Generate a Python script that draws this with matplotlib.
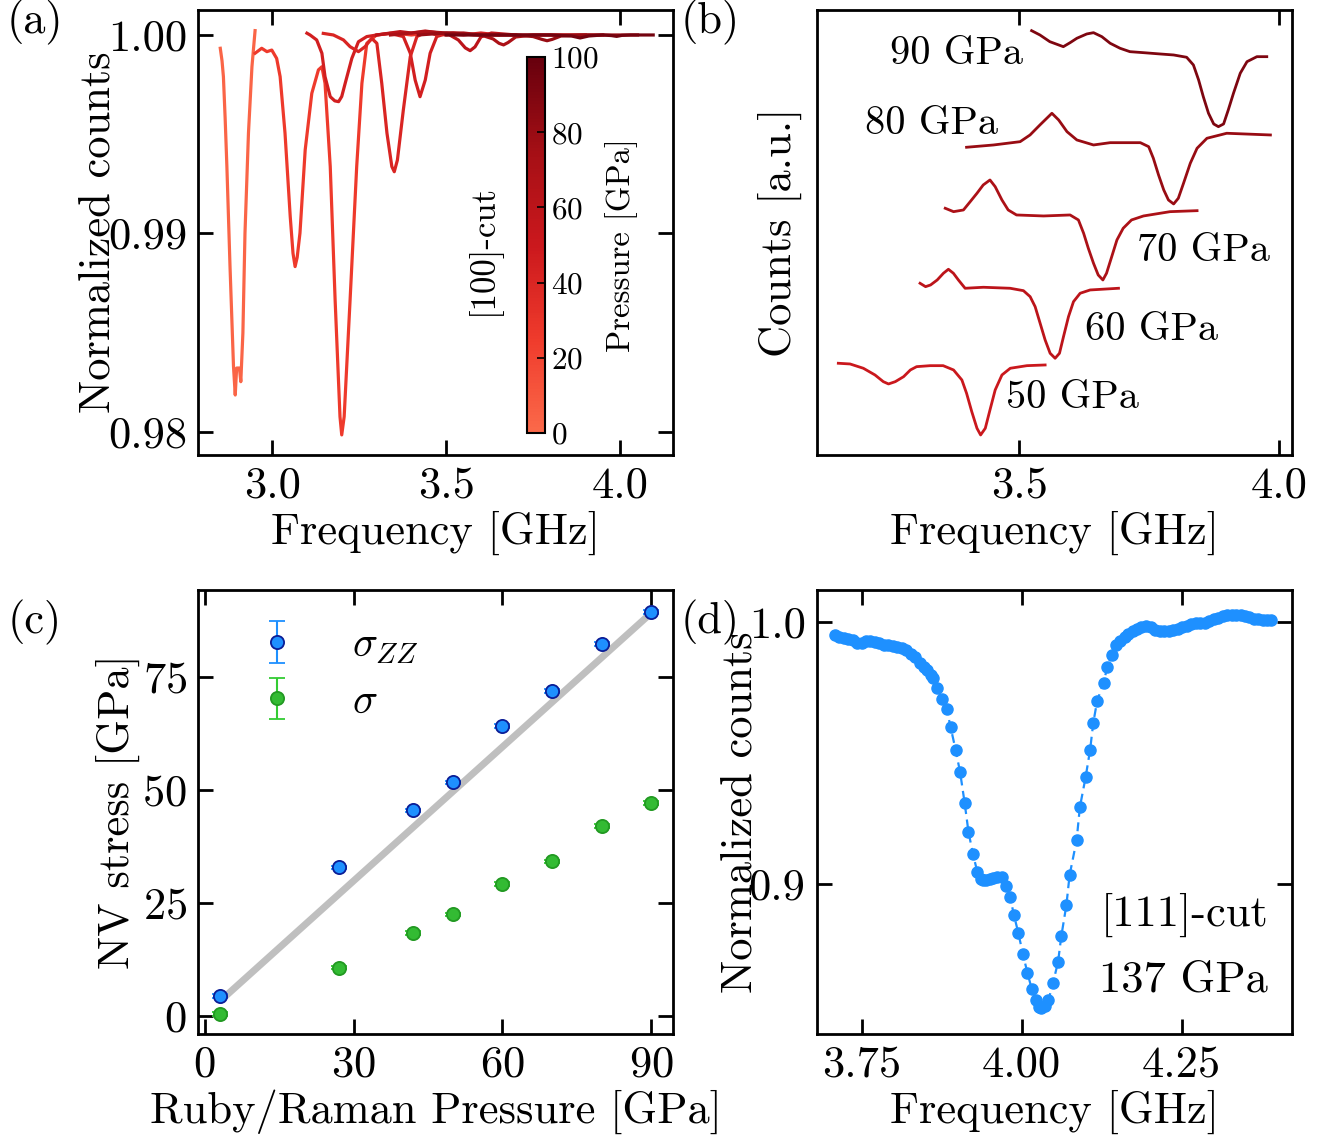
import numpy as np
import matplotlib
matplotlib.use('Agg')
import matplotlib.pyplot as plt
from matplotlib.colors import LinearSegmentedColormap, Normalize
from matplotlib.cm import ScalarMappable
from matplotlib.ticker import FormatStrFormatter, MultipleLocator

plt.rcParams['font.family'] = 'cmr10'
plt.rcParams['mathtext.fontset'] = 'cm'
plt.rcParams['axes.formatter.use_mathtext'] = True
plt.rcParams['axes.unicode_minus'] = False
plt.rcParams['font.size'] = 32

# ---------------- (a) ODMR spectra, [100]-cut ----------------
a_pressures = [3, 25, 45, 40, 60, 70, 80, 95]
a_freq = [
    [2.851, 2.856, 2.860, 2.865, 2.870, 2.879, 2.889, 2.894, 2.898, 2.906, 2.910, 2.916, 2.922, 2.932,
     2.942, 2.951],
    [2.951, 2.970, 2.985, 2.999, 3.013, 3.023, 3.037, 3.052, 3.060, 3.066, 3.072, 3.080, 3.095, 3.114,
     3.133, 3.143, 3.152, 3.167, 3.181, 3.195, 3.200, 3.207, 3.224, 3.243, 3.258, 3.272, 3.30, 3.35,
     3.40, 3.45, 3.50],
    [3.100, 3.109, 3.128, 3.143, 3.152, 3.167, 3.180, 3.191, 3.200, 3.210, 3.229, 3.248, 3.272, 3.301,
     3.339, 3.377, 3.397, 3.411, 3.425, 3.440, 3.454, 3.473, 3.502, 3.55, 3.60, 3.65, 3.70],
    [3.147, 3.176, 3.205, 3.224, 3.248, 3.267, 3.286, 3.301, 3.315, 3.330, 3.344, 3.351, 3.360, 3.377,
     3.397, 3.416, 3.445, 3.473, 3.52, 3.58, 3.65],
    [3.30, 3.34, 3.368, 3.40, 3.44, 3.48, 3.51, 3.535, 3.555, 3.569, 3.583, 3.60, 3.63, 3.70, 3.80, 3.90],
    [3.34, 3.40, 3.445, 3.50, 3.55, 3.60, 3.635, 3.652, 3.665, 3.678, 3.70, 3.75, 3.85, 3.95],
    [3.42, 3.50, 3.60, 3.70, 3.75, 3.775, 3.79, 3.805, 3.83, 3.90, 4.00, 4.05],
    [3.50, 3.60, 3.70, 3.80, 3.86, 3.885, 3.91, 3.95, 3.975, 3.99, 4.005, 4.03, 4.095],
]
a_counts = [
    [0.99933, 0.99870, 0.99790, 0.99580, 0.99337, 0.98833, 0.98329, 0.98186, 0.98322, 0.98322, 0.98253,
     0.98499, 0.99002, 0.99506, 0.99840, 1.00022],
    [0.99908, 0.99933, 0.99916, 0.99924, 0.99882, 0.99790, 0.99506, 0.99085, 0.98900, 0.98833, 0.98880,
     0.99002, 0.99421, 0.99706, 0.99824, 0.99840, 0.99757, 0.99337, 0.98665, 0.98077, 0.97985, 0.98077,
     0.98665, 0.99337, 0.99757, 0.99958, 1.0000, 1.0001, 1.0000, 1.0001, 1.0000],
    [1.00009, 1.0000, 0.99975, 0.99908, 0.99790, 0.99689, 0.99668, 0.99664, 0.99690, 0.99757, 0.99882,
     0.99966, 0.99992, 1.0000, 1.00008, 0.99992, 0.99908, 0.99773, 0.99689, 0.99773, 0.99908, 0.99992,
     1.00008, 1.0000, 1.0001, 1.0000, 1.0000],
    [1.00008, 1.0000, 0.99975, 0.99941, 0.99916, 0.99941, 0.99983, 0.99958, 0.99757, 0.99505, 0.99337,
     0.99311, 0.99370, 0.99622, 0.99891, 0.99992, 1.00017, 1.0000, 1.0001, 1.0000, 1.0000],
    [1.0000, 1.0001, 1.00017, 1.0001, 1.0002, 1.0001, 1.0000, 0.99975, 0.99935, 0.99921, 0.99940, 0.9999,
     1.0001, 1.0000, 1.0000, 1.0000],
    [1.0000, 1.0001, 1.00017, 1.0001, 1.0001, 1.0000, 0.9998, 0.99958, 0.9995, 0.99962, 0.9999, 1.0000,
     1.0000, 1.0000],
    [1.0000, 1.0001, 1.0000, 1.0000, 0.99992, 0.99978, 0.99971, 0.99978, 0.99995, 1.0000, 1.0000, 1.0000],
    [1.0000, 1.0000, 1.0000, 1.0000, 0.99995, 0.99985, 0.99995, 1.0000, 0.99997, 0.99993, 0.99998, 1.0000,
     1.0000],
]

# ---------------- (b) offset spectra ----------------
b_pressures = [50, 60, 70, 80, 90]
b_labels = ['50 GPa', '60 GPa', '70 GPa', '80 GPa', '90 GPa']
b_freq = [
    [3.1525, 3.175, 3.2006, 3.223, 3.239, 3.249, 3.262, 3.278, 3.291, 3.303, 3.329, 3.354, 3.374, 3.390,
     3.399, 3.409, 3.419, 3.426, 3.435, 3.444, 3.454, 3.467, 3.483, 3.515, 3.550],
    [3.3096, 3.3202, 3.3298, 3.3426, 3.3545, 3.3641, 3.3737, 3.3833, 3.3962, 3.4314, 3.4827, 3.5083,
     3.5212, 3.5308, 3.5404, 3.55, 3.5596, 3.5692, 3.5776, 3.5853, 3.5949, 3.6045, 3.6173, 3.6365, 3.691],
    [3.358, 3.374, 3.393, 3.406, 3.419, 3.431, 3.444, 3.454, 3.467, 3.479, 3.495, 3.547, 3.598, 3.614,
     3.624, 3.633, 3.643, 3.652, 3.661, 3.668, 3.678, 3.688, 3.700, 3.716, 3.739, 3.790, 3.842],
    [3.399, 3.451, 3.502, 3.521, 3.540, 3.563, 3.576, 3.592, 3.611, 3.643, 3.675, 3.733, 3.749, 3.758,
     3.768, 3.778, 3.787, 3.797, 3.806, 3.816, 3.829, 3.842, 3.861, 3.899, 3.983],
    [3.524, 3.540, 3.559, 3.585, 3.598, 3.611, 3.630, 3.643, 3.659, 3.675, 3.694, 3.713, 3.739, 3.771,
     3.797, 3.822, 3.835, 3.845, 3.854, 3.864, 3.874, 3.883, 3.893, 3.902, 3.912, 3.925, 3.938, 3.957,
     3.976],
]
b_counts = [
    [0.917, 0.91, 0.867, 0.80, 0.733, 0.71, 0.733, 0.783, 0.85, 0.883, 0.893, 0.893, 0.85, 0.75, 0.617,
     0.433, 0.267, 0.20, 0.267, 0.45, 0.65, 0.80, 0.867, 0.893, 0.90],
    [1.717, 1.683, 1.70, 1.75, 1.817, 1.857, 1.817, 1.75, 1.667, 1.677, 1.667, 1.643, 1.583, 1.483, 1.317,
     1.15, 1.017, 0.967, 1.017, 1.183, 1.383, 1.533, 1.617, 1.65, 1.667],
    [2.467, 2.433, 2.45, 2.533, 2.617, 2.70, 2.75, 2.683, 2.55, 2.45, 2.40, 2.39, 2.40, 2.35, 2.217,
     2.067, 1.917, 1.80, 1.75, 1.817, 1.983, 2.15, 2.267, 2.35, 2.39, 2.433, 2.443],
    [3.077, 3.10, 3.133, 3.20, 3.30, 3.417, 3.35, 3.233, 3.15, 3.10, 3.123, 3.123, 3.083, 2.967, 2.80,
     2.65, 2.55, 2.51, 2.567, 2.717, 2.917, 3.067, 3.167, 3.217, 3.20],
    [4.243, 4.20, 4.133, 4.083, 4.123, 4.167, 4.21, 4.223, 4.183, 4.117, 4.067, 4.033, 4.023, 4.01, 4.0,
     3.977, 3.90, 3.75, 3.583, 3.417, 3.31, 3.283, 3.31, 3.45, 3.617, 3.817, 3.933, 3.983, 3.983],
]
b_label_pos = [(3.602, 0.57), (3.754, 1.25), (3.854, 2.04), (3.331, 3.31), (3.379, 4.01)]

# ---------------- (c) NV stress vs pressure ----------------
ruby_p = [3, 27, 42, 50, 60, 70, 80, 90]
sigma_zz = [4.4, 32.9, 45.5, 51.7, 64.2, 72.0, 82.3, 89.4]
sigma_zz_err = [0.4, 0.4, 0.4, 0.4, 0.4, 0.4, 0.4, 0.4]
sigma_hyd = [0.4, 10.7, 18.4, 22.5, 29.2, 34.2, 42.1, 47.1]
sigma_hyd_err = [0.4, 0.4, 0.4, 0.4, 0.4, 0.4, 0.4, 0.4]
fit_p = [3, 90]
fit_s = [3.2, 89.2]

# ---------------- (d) [111]-cut spectrum ----------------
d_freq = [3.708, 3.715, 3.722, 3.729, 3.736, 3.743, 3.750, 3.757, 3.764, 3.771, 3.778, 3.785, 3.792,
          3.799, 3.806, 3.813, 3.820, 3.827, 3.834, 3.841, 3.847, 3.852, 3.858, 3.862, 3.868, 3.875,
          3.883, 3.889, 3.897, 3.904, 3.911, 3.917, 3.924, 3.931, 3.936, 3.940, 3.945, 3.950, 3.956,
          3.961, 3.969, 3.975, 3.982, 3.988, 3.995, 4.002, 4.009, 4.016, 4.022, 4.027, 4.031, 4.036,
          4.042, 4.049, 4.057, 4.062, 4.070, 4.075, 4.086, 4.091, 4.100, 4.107, 4.112, 4.118, 4.128,
          4.134, 4.141, 4.148, 4.154, 4.161, 4.167, 4.174, 4.180, 4.187, 4.195, 4.202, 4.209, 4.216,
          4.223, 4.230, 4.237, 4.244, 4.251, 4.258, 4.265, 4.272, 4.279, 4.286, 4.293, 4.300, 4.307,
          4.314, 4.321, 4.328, 4.335, 4.342, 4.349, 4.356, 4.363, 4.370, 4.377, 4.384, 4.390]
d_counts = [0.9951, 0.9945, 0.9940, 0.9936, 0.9932, 0.9922, 0.9920, 0.9928, 0.9929, 0.9924, 0.9920,
            0.9915, 0.9912, 0.9909, 0.9906, 0.9902, 0.9893, 0.9880, 0.9866, 0.9845, 0.9830, 0.9817,
            0.9800, 0.9786, 0.9750, 0.9707, 0.9668, 0.9601, 0.9512, 0.9427, 0.9311, 0.9200, 0.9115,
            0.9045, 0.9020, 0.9015, 0.9016, 0.9018, 0.9024, 0.9028, 0.9028, 0.8991, 0.8951, 0.8882,
            0.8812, 0.8733, 0.8662, 0.8598, 0.8558, 0.8530, 0.8525, 0.8535, 0.8557, 0.8621, 0.8703,
            0.8800, 0.8920, 0.9034, 0.9168, 0.9293, 0.9408, 0.9512, 0.9616, 0.9699, 0.9769, 0.9830,
            0.9875, 0.9913, 0.9930, 0.9945, 0.9955, 0.9965, 0.9975, 0.9982, 0.9986, 0.9980, 0.9972,
            0.9968, 0.9965, 0.9966, 0.9970, 0.9974, 0.9980, 0.9986, 0.9992, 0.9996, 0.9997, 0.9998,
            1.0004, 1.0011, 1.0017, 1.0024, 1.0028, 1.0029, 1.0028, 1.0028, 1.0023, 1.0019, 1.0014,
            1.0011, 1.0010, 1.0009, 1.0008]

# colormap: upper half of Reds
reds = LinearSegmentedColormap.from_list('reds_half', plt.cm.Reds(np.linspace(0.5, 1.0, 256)))
pnorm = Normalize(0, 100)


def style_axes(ax):
    for s in ax.spines.values():
        s.set_linewidth(2.0)
    ax.tick_params(which='both', direction='in', top=True, right=True,
                   length=11, width=2.0, pad=8)


fig = plt.figure(figsize=(13.28, 11.46), dpi=100)
ax_a = fig.add_axes([0.1491, 0.6030, 0.3577, 0.3883])
ax_b = fig.add_axes([0.6150, 0.6030, 0.3577, 0.3883])
ax_c = fig.add_axes([0.1491, 0.0977, 0.3577, 0.3875])
ax_d = fig.add_axes([0.6150, 0.0977, 0.3577, 0.3875])

# (a)
for p, f, c in zip(a_pressures, a_freq, a_counts):
    ax_a.plot(f, c, color=reds(pnorm(p)), lw=2.3)
ax_a.set_xlim(2.787, 4.152)
ax_a.set_ylim(0.97884, 1.00126)
ax_a.xaxis.set_major_locator(MultipleLocator(0.5))
ax_a.yaxis.set_major_locator(MultipleLocator(0.01))
ax_a.xaxis.set_major_formatter(FormatStrFormatter('%.1f'))
ax_a.yaxis.set_major_formatter(FormatStrFormatter('%.2f'))
style_axes(ax_a)
ax_a.set_xlabel('Frequency [GHz]')
ax_a.set_ylabel('Normalized counts')
ax_a.xaxis.set_label_coords(0.5, -0.125)
ax_a.yaxis.set_label_coords(-0.167, 0.5)
ax_a.text(3.606, 0.98917, '[100]-cut', rotation=90, ha='center', va='center', fontsize=25)

cax = fig.add_axes([0.3968, 0.6222, 0.01355, 0.3281])
cb = fig.colorbar(ScalarMappable(norm=pnorm, cmap=reds), cax=cax)
cb.set_ticks([0, 20, 40, 60, 80, 100])
cb.ax.tick_params(labelsize=22.5, direction='in', length=6, width=1.2, pad=4)
cb.outline.set_linewidth(1.5)
cb.set_label('Pressure [GPa]', fontsize=23.5, labelpad=5)

# (b)
for p, f, c, lab, pos in zip(b_pressures, b_freq, b_counts, b_labels, b_label_pos):
    ax_b.plot(f, c, color=reds(pnorm(p)), lw=2.0)
    ax_b.text(pos[0], pos[1], lab, ha='center', va='center', fontsize=29)
ax_b.set_xlim(3.111, 4.024)
ax_b.set_ylim(0, 4.45)
ax_b.xaxis.set_major_locator(MultipleLocator(0.5))
ax_b.xaxis.set_major_formatter(FormatStrFormatter('%.1f'))
style_axes(ax_b)
ax_b.tick_params(axis='y', left=False, right=False, labelleft=False)
ax_b.set_xlabel('Frequency [GHz]')
ax_b.set_ylabel('Counts [a.u.]')
ax_b.xaxis.set_label_coords(0.5, -0.125)
ax_b.yaxis.set_label_coords(-0.032, 0.5)

# (c)
ax_c.plot(fit_p, fit_s, color='#bfbfbf', lw=5, solid_capstyle='butt', zorder=1)
ax_c.errorbar(ruby_p, sigma_zz, yerr=sigma_zz_err, fmt='o', ms=9.5, mfc='#1e90ff', mec='#0b1d96',
              mew=1.3, ecolor='#1e90ff', elinewidth=1.5, capsize=6, capthick=1.5,
              label=r'$\sigma_{ZZ}$', zorder=3)
ax_c.errorbar(ruby_p, sigma_hyd, yerr=sigma_hyd_err, fmt='o', ms=9.5, mfc='#33bb33', mec='#229922',
              mew=1.3, ecolor='#33cc33', elinewidth=1.5, capsize=6, capthick=1.5,
              label=r'$\sigma$', zorder=3)
ax_c.set_xlim(-1.35, 94.4)
ax_c.set_ylim(-4.0, 94.3)
ax_c.xaxis.set_major_locator(MultipleLocator(30))
ax_c.yaxis.set_major_locator(MultipleLocator(25))
style_axes(ax_c)
ax_c.set_xlabel('Ruby/Raman Pressure [GPa]')
ax_c.set_ylabel('NV stress [GPa]')
ax_c.xaxis.set_label_coords(0.5, -0.125)
ax_c.yaxis.set_label_coords(-0.123, 0.5)
ax_c.legend(loc='upper left', bbox_to_anchor=(0.0, 1.001), frameon=False, fontsize=30,
            handlelength=2.0, handletextpad=0.8, labelspacing=0.43)

# (d)
ax_d.plot(d_freq, d_counts, '--o', color='#1e90ff', ms=8.0, lw=1.6, dashes=(4, 2.5))
ax_d.set_xlim(3.680, 4.422)
ax_d.set_ylim(0.8427, 1.01234)
ax_d.xaxis.set_major_locator(MultipleLocator(0.25))
ax_d.yaxis.set_major_locator(MultipleLocator(0.1))
ax_d.xaxis.set_major_formatter(FormatStrFormatter('%.2f'))
ax_d.yaxis.set_major_formatter(FormatStrFormatter('%.1f'))
style_axes(ax_d)
ax_d.set_xlabel('Frequency [GHz]')
ax_d.set_ylabel('Normalized counts')
ax_d.xaxis.set_label_coords(0.5, -0.125)
ax_d.yaxis.set_label_coords(-0.118, 0.5)
ax_d.text(4.385, 0.8882, '[111]-cut', ha='right', va='center')
ax_d.text(4.385, 0.8633, '137 GPa', ha='right', va='center')

# panel letters
fig.text(0.0264, 0.9808, '(a)', ha='center', va='center')
fig.text(0.5346, 0.9808, '(b)', ha='center', va='center')
fig.text(0.0264, 0.4572, '(c)', ha='center', va='center')
fig.text(0.5346, 0.4572, '(d)', ha='center', va='center')

fig.savefig('out.png', dpi=100)
